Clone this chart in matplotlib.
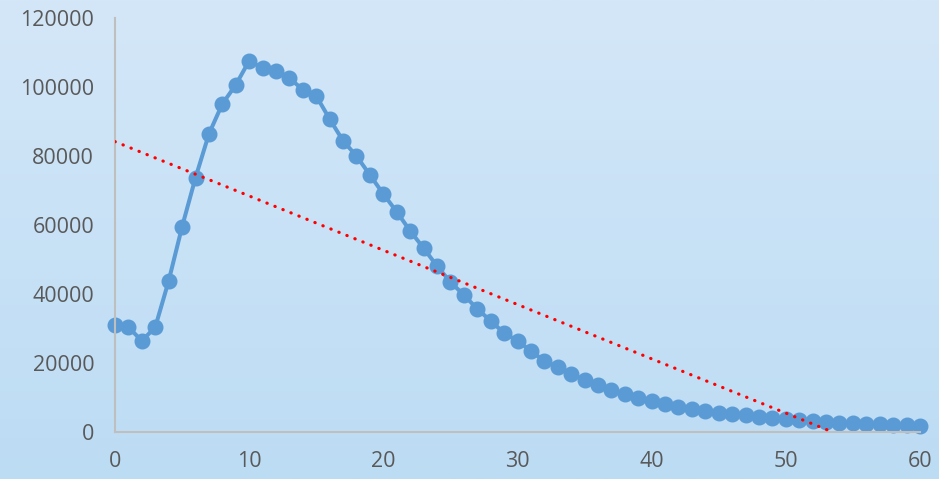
import numpy as np
import matplotlib
matplotlib.use("Agg")
import matplotlib.pyplot as plt

# valeurs
x = np.arange(0, 61)
y = [31000, 30400, 26400, 30400, 43800, 59500, 73700, 86400, 95100, 100600,
     107600, 105500, 104700, 102600, 99200, 97400, 90700, 84400, 80000, 74500,
     69000, 63800, 58300, 53300, 48100, 43500, 39700, 35700, 32200, 28700,
     26400, 23500, 20600, 18800, 16800, 15100, 13600, 12200, 11000, 9900,
     9000, 8100, 7300, 6700, 6100, 5500, 5200, 4900, 4400, 4100,
     3800, 3500, 3200, 2900, 2600, 2500, 2300, 2200, 2000, 1900, 1700]

x_ticks = [0, 10, 20, 30, 40, 50, 60]
y_ticks = [0, 20000, 40000, 60000, 80000, 100000, 120000]

plt.rcParams['font.family'] = ['Open Sans', 'DejaVu Sans']

fig = plt.figure(figsize=(9.39, 4.79), dpi=100)

# fond en dégradé
bg = fig.add_axes([0, 0, 1, 1])
grad = np.linspace(0, 1, 256).reshape(-1, 1)
top = np.array([212, 231, 248]) / 255
bot = np.array([188, 220, 244]) / 255
img = top + (bot - top) * grad[:, :, None]
bg.imshow(img, aspect='auto', extent=[0, 1, 0, 1])
bg.axis('off')

ax = fig.add_axes([115/939, 47/479, 805/939, 414/479])
ax.patch.set_alpha(0)

# courbe de tendance linéaire, coupée à 0
coef = np.polyfit(x, y, 1)
xt = np.linspace(0, 60, 600)
yt = np.polyval(coef, xt)
m = yt >= 0
ax.plot(xt[m], yt[m], color='red', linewidth=2.3, linestyle=(0, (0.1, 2.6)),
        dash_capstyle='round', zorder=3)

ax.plot(x, y, color='#5B9BD5', linewidth=2.9, marker='o', markersize=10.5,
        clip_on=False, zorder=2)

ax.set_xlim(0, 60)
ax.set_ylim(0, 120000)
ax.set_xticks(x_ticks)
ax.set_yticks(y_ticks)
ax.tick_params(length=0, labelsize=15.5, colors='#595959')
ax.tick_params(axis='y', pad=15)
ax.tick_params(axis='x', pad=14)
for s in ['top', 'right']:
    ax.spines[s].set_visible(False)
for s in ['left', 'bottom']:
    ax.spines[s].set_color('#BFBFBF')
    ax.spines[s].set_linewidth(1.5)

fig.savefig('out.png', dpi=100)
